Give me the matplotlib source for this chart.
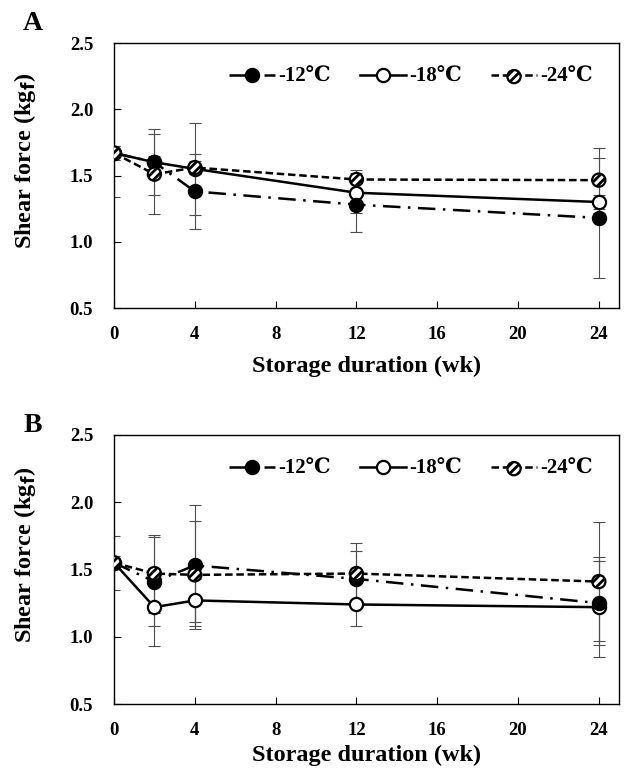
import matplotlib
matplotlib.use("Agg")
import matplotlib.pyplot as plt
from matplotlib.lines import Line2D
from matplotlib.legend_handler import HandlerTuple

plt.rcParams['font.family'] = ['Liberation Serif', 'DejaVu Serif']
plt.rcParams['font.weight'] = 'bold'
plt.rcParams['hatch.linewidth'] = 2.0

# storage weeks
weeks = [0, 2, 4, 12, 24]

# panel A shear force (kgf) and standard deviations
a_m12 = [1.67, 1.60, 1.38, 1.28, 1.18]
a_m12_sd = [0.05, 0.25, 0.28, 0.21, 0.45]
a_m18 = [1.67, 1.60, 1.55, 1.37, 1.30]
a_m18_sd = [0.33, 0.05, 0.35, 0.15, 0.05]
a_m24 = [1.67, 1.51, 1.56, 1.47, 1.465]
a_m24_sd = [0.05, 0.30, 0.05, 0.07, 0.245]

# panel B
b_m12 = [1.55, 1.41, 1.53, 1.43, 1.25]
b_m12_sd = [0.05, 0.33, 0.45, 0.21, 0.31]
b_m18 = [1.55, 1.22, 1.27, 1.24, 1.22]
b_m18_sd = [0.20, 0.29, 0.16, 0.16, 0.37]
b_m24 = [1.55, 1.47, 1.46, 1.47, 1.41]
b_m24_sd = [0.05, 0.29, 0.40, 0.23, 0.44]

labels = ['-12℃', '-18℃', '-24℃']
yticks = [0.5, 1.0, 1.5, 2.0, 2.5]
xticks = [0, 4, 8, 12, 16, 20, 24]

fig = plt.figure(figsize=(6.24, 7.71), dpi=100)
axA = fig.add_axes([0.1827, 0.6005, 0.8093, 0.3437])
axB = fig.add_axes([0.1827, 0.0869, 0.8093, 0.3489])

ms = 9.5
lw = 1.8


def draw_panel(ax, m12, s12, m18, s18, m24, s24, xpad):
    eb = dict(fmt='none', ecolor='0.3', elinewidth=0.8, capsize=4, capthick=0.8, zorder=1)
    ax.errorbar(weeks, m18, yerr=s18, **eb)
    ax.errorbar(weeks, m12, yerr=s12, **eb)
    ax.errorbar(weeks, m24, yerr=s24, **eb)

    ax.plot(weeks, m18, color='black', lw=lw, ls='-', marker='o', ms=ms,
            mfc='white', mec='black', mew=1.6, zorder=3)
    l12, = ax.plot(weeks, m12, color='black', lw=lw, marker='o', ms=ms,
                   mfc='black', mec='black', mew=1.6, zorder=4)
    l12.set_dashes((7, 3, 1, 3))
    l24, = ax.plot(weeks, m24, color='black', lw=lw, zorder=5)
    l24.set_dashes((3, 1.5))
    sc24 = ax.scatter(weeks, m24, s=ms ** 2, facecolor='white', edgecolor='black',
                      linewidths=1.6, hatch='////', zorder=6)

    ax.set_xlim(0, 25)
    ax.set_ylim(0.5, 2.5)
    ax.set_xticks(xticks)
    ax.set_yticks(yticks)
    ax.set_yticklabels([f'{v:.1f}' for v in yticks])
    ax.tick_params(direction='in', length=5, width=0.8, labelsize=13.5)
    ax.tick_params(axis='y', pad=15)
    ax.tick_params(axis='x', pad=13)
    for sp in ax.spines.values():
        sp.set_linewidth(1.0)

    ax.set_xlabel('Storage duration (wk)', fontsize=17.5, fontweight='bold', labelpad=xpad)
    ax.set_ylabel('Shear force (kg$_\\mathbf{f}$)', fontsize=17.5, fontweight='bold')
    ax.yaxis.set_label_coords(-0.150, 0.555)

    h12 = Line2D([], [], color='black', lw=lw, marker='o', ms=ms, mfc='black', mew=1.6)
    h12.set_dashes((7, 3, 1, 3))
    h18 = Line2D([], [], color='black', lw=lw, marker='o', ms=ms, mfc='white', mew=1.6)
    h24l = Line2D([], [], color='black', lw=lw)
    h24l.set_dashes((3, 1.5))
    ax.legend([h12, h18, (h24l, sc24)], labels, ncol=3, frameon=False,
              loc='upper right', bbox_to_anchor=(0.985, 0.98), fontsize=15,
              handlelength=2.2, handletextpad=0.15, columnspacing=1.4,
              scatterpoints=1, handler_map={tuple: HandlerTuple(ndivide=1)})


draw_panel(axA, a_m12, a_m12_sd, a_m18, a_m18_sd, a_m24, a_m24_sd, 9)
draw_panel(axB, b_m12, b_m12_sd, b_m18, b_m18_sd, b_m24, b_m24_sd, 4)

fig.text(33 / 624, 1 - 23 / 771, 'A', fontsize=20, fontweight='bold', ha='center', va='center')
fig.text(33 / 624, 1 - 425 / 771, 'B', fontsize=20, fontweight='bold', ha='center', va='center')

fig.savefig('out.png', dpi=100)
